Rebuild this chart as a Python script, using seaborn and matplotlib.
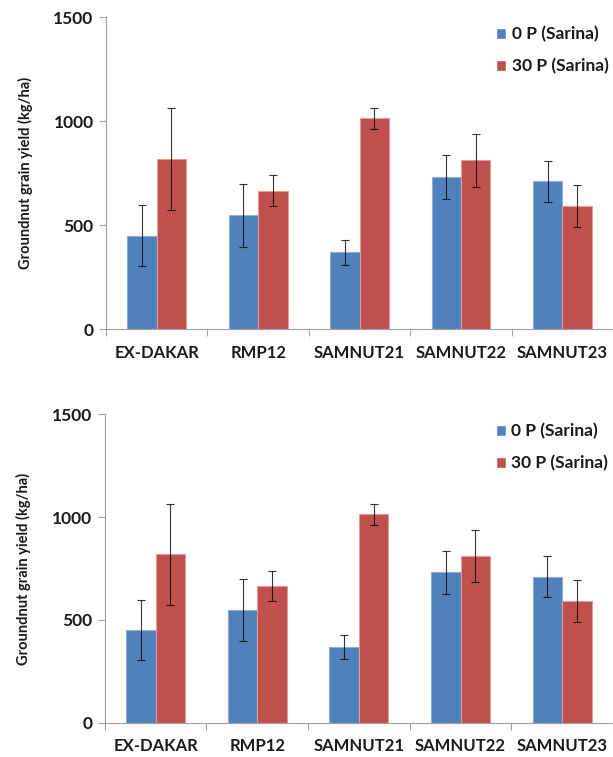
import seaborn as sns
import matplotlib.pyplot as plt
import numpy as np
import pandas as pd

# values (kg/ha)
genotypes = ["EX-DAKAR", "RMP12", "SAMNUT21", "SAMNUT22", "SAMNUT23"]
treatments = ["0 P (Sarina)", "30 P (Sarina)"]
yield_0p = [450, 548, 369, 731, 710]
yield_30p = [819, 665, 1014, 811, 593]
err_0p = [145, 152, 60, 106, 100]
err_30p = [245, 74, 51, 128, 101]
yticks = [0, 500, 1000, 1500]

colors = ["#4F81BD", "#C0504D"]
edges = ["#8EAEDB", "#E39A98"]

df = pd.DataFrame({
    "genotype": genotypes * 2,
    "treatment": [treatments[0]] * 5 + [treatments[1]] * 5,
    "yield": yield_0p + yield_30p,
    "err": err_0p + err_30p,
})

sns.set_style("white")
plt.rcParams["font.family"] = ["Lato", "DejaVu Sans"]
plt.rcParams["font.weight"] = "bold"
plt.rcParams["axes.labelweight"] = "bold"
plt.rcParams["text.color"] = "#1a1a1a"


def panel(ax):
    sns.barplot(data=df, x="genotype", y="yield", hue="treatment",
                palette=colors, width=0.58, errorbar=None, ax=ax,
                saturation=1)
    # edges + error bars from the drawn bars
    for cont, ec, errs in zip(ax.containers, edges, [err_0p, err_30p]):
        for bar, e in zip(cont, errs):
            bar.set_edgecolor(ec)
            bar.set_linewidth(0.8)
            cx = bar.get_x() + bar.get_width() / 2
            ax.errorbar(cx, bar.get_height(), yerr=e, color="black",
                        elinewidth=0.8, capsize=3, capthick=0.8, alpha=0.8)
    ax.set_ylim(0, 1500)
    ax.set_yticks(yticks)
    ax.set_xlim(-0.5, 4.5)
    ax.set_xticks(np.arange(-0.5, 5, 1), minor=True)
    ax.tick_params(axis="x", which="major", length=0, pad=11, labelsize=12,
                   labelcolor="#1a1a1a")
    ax.tick_params(axis="x", which="minor", length=5, color="#a0a0a0",
                   width=0.8, direction="out", bottom=True)
    ax.tick_params(axis="y", length=5, color="#a0a0a0", width=0.8,
                   left=True, direction="out", labelsize=12.5, pad=4,
                   labelcolor="#1a1a1a")
    ax.set_xlabel("")
    ax.set_ylabel("Groundnut grain yield (kg/ha)", fontsize=10.5,
                  fontweight="bold", color="#1a1a1a")
    ax.yaxis.set_label_coords(-0.145, 0.5)
    for s in ["top", "right"]:
        ax.spines[s].set_visible(False)
    for s in ["left", "bottom"]:
        ax.spines[s].set_color("#a0a0a0")
        ax.spines[s].set_linewidth(0.8)
    ax.legend(loc="upper left", bbox_to_anchor=(0.745, 1.01), frameon=False,
              fontsize=12.5, handlelength=0.6, handleheight=0.6,
              handletextpad=0.3, labelspacing=0.9, borderaxespad=0.3)


fig = plt.figure(figsize=(6.13, 7.57), dpi=100)
ax1 = fig.add_axes([0.173, 0.565, 0.827, 0.4125])
ax2 = fig.add_axes([0.171, 0.045, 0.829, 0.408])
panel(ax1)
panel(ax2)
fig.savefig("out.png", dpi=100)
